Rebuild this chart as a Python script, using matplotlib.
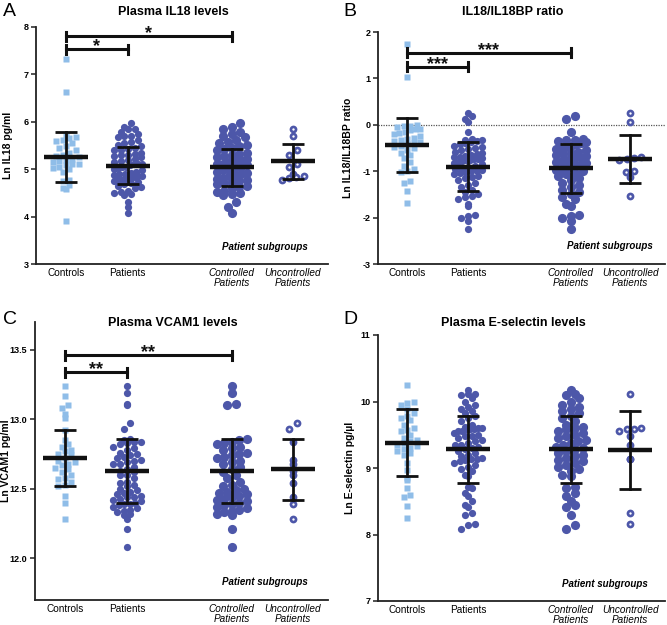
import numpy as np
import matplotlib
matplotlib.use('Agg')
import matplotlib.pyplot as plt

plt.rcParams['font.family'] = ['Liberation Sans', 'DejaVu Sans']

W, H = 667, 625
LIGHT = '#8fbde8'
DARK = '#4d57a9'

categories = ['Controls', 'Patients', 'Controlled\nPatients', 'Uncontrolled\nPatients']

# ---------------- Panel A : IL18 ----------------
il18_controls = [7.33, 6.63, 3.90, 4.58, 4.60, 4.66, 4.75, 4.78, 4.95, 5.00, 5.02, 5.05,
                 5.08, 5.10, 5.12, 5.15, 5.18, 5.20, 5.22, 5.25, 5.28, 5.30, 5.35, 5.40,
                 5.45, 5.50, 5.55, 5.60, 5.62, 5.65, 5.68, 5.70]
il18_controlled = [5.97, 5.90, 5.85, 5.78, 5.75, 5.70, 5.68, 5.62, 5.58, 5.55, 5.52, 5.50,
                   5.45, 5.42, 5.40, 5.35, 5.32, 5.30, 5.28, 5.25, 5.22, 5.20, 5.18, 5.15,
                   5.12, 5.10, 5.08, 5.05, 5.02, 5.00, 4.98, 4.95, 4.92, 4.90, 4.88, 4.85,
                   4.82, 4.80, 4.78, 4.75, 4.72, 4.70, 4.68, 4.65, 4.62, 4.60, 4.55, 4.52,
                   4.50, 4.47, 4.45, 4.31, 4.21, 4.07]
il18_uncontrolled = [5.85, 5.71, 5.40, 5.30, 5.12, 5.05, 4.90, 4.86, 4.84, 4.82, 4.78]
il18_mean = [5.25, 5.07, 5.04, 5.17]
il18_sd = [0.53, 0.39, 0.39, 0.37]

# ---------------- Panel B : IL18/IL18BP ----------------
ratio_controls = [1.75, 1.02, 0.00, -0.02, -0.03, -0.05, -0.08, -0.10, -0.12, -0.15, -0.18,
                  -0.20, -0.25, -0.28, -0.30, -0.33, -0.35, -0.38, -0.40, -0.42, -0.45,
                  -0.48, -0.50, -0.55, -0.60, -0.65, -0.72, -0.80, -0.88, -0.95, -1.00,
                  -1.02, -1.22, -1.25, -1.43, -1.69]
ratio_controlled = [0.19, 0.12, -0.15, -0.30, -0.32, -0.33, -0.35, -0.38, -0.40, -0.42,
                    -0.45, -0.48, -0.50, -0.52, -0.55, -0.58, -0.60, -0.63, -0.65, -0.68,
                    -0.70, -0.73, -0.75, -0.78, -0.80, -0.83, -0.85, -0.88, -0.90, -0.93,
                    -0.95, -0.98, -1.00, -1.03, -1.05, -1.10, -1.15, -1.20, -1.25, -1.30,
                    -1.35, -1.40, -1.45, -1.50, -1.55, -1.60, -1.70, -1.75, -1.95, -1.97,
                    -2.00, -2.07, -2.25]
ratio_uncontrolled = [0.26, 0.05, -0.70, -0.72, -0.74, -0.76, -0.99, -1.01, -1.12, -1.53]
ratio_mean = [-0.44, -0.90, -0.94, -0.74]
ratio_sd = [0.58, 0.52, 0.53, 0.51]

# ---------------- Panel C : VCAM1 ----------------
vcam_controls = [13.24, 13.17, 13.10, 13.08, 13.04, 13.01, 12.92, 12.85, 12.82, 12.80,
                 12.78, 12.77, 12.75, 12.74, 12.72, 12.70, 12.69, 12.68, 12.67, 12.65,
                 12.64, 12.62, 12.60, 12.58, 12.57, 12.55, 12.53, 12.52, 12.45, 12.40, 12.28]
vcam_controlled = [13.24, 13.19, 13.11, 13.10, 12.86, 12.85, 12.84, 12.83, 12.82, 12.80,
                   12.79, 12.78, 12.76, 12.75, 12.74, 12.73, 12.72, 12.70, 12.69, 12.68,
                   12.66, 12.64, 12.62, 12.60, 12.58, 12.55, 12.53, 12.52, 12.50, 12.49,
                   12.48, 12.47, 12.46, 12.45, 12.44, 12.43, 12.42, 12.41, 12.40, 12.39,
                   12.38, 12.37, 12.36, 12.35, 12.34, 12.33, 12.32, 12.31, 12.21, 12.08]
vcam_uncontrolled = [12.97, 12.93, 12.84, 12.71, 12.68, 12.63, 12.60, 12.54, 12.44, 12.39, 12.28]
vcam_mean = [12.72, 12.63, 12.63, 12.64]
vcam_sd = [0.20, 0.23, 0.23, 0.22]

# ---------------- Panel D : E-selectin ----------------
esel_controls = [10.25, 10.00, 9.98, 9.95, 9.88, 9.82, 9.78, 9.75, 9.72, 9.65, 9.60, 9.57,
                 9.55, 9.50, 9.45, 9.42, 9.40, 9.38, 9.35, 9.33, 9.30, 9.28, 9.25, 9.22,
                 9.20, 9.07, 8.97, 8.85, 8.82, 8.70, 8.60, 8.57, 8.43, 8.25]
esel_controlled = [10.18, 10.12, 10.10, 10.05, 10.00, 9.95, 9.92, 9.88, 9.85, 9.82, 9.78,
                   9.75, 9.70, 9.65, 9.62, 9.60, 9.58, 9.55, 9.52, 9.50, 9.48, 9.45, 9.42,
                   9.40, 9.38, 9.35, 9.32, 9.30, 9.28, 9.25, 9.22, 9.20, 9.18, 9.15, 9.12,
                   9.10, 9.08, 9.05, 9.02, 8.98, 8.95, 8.90, 8.88, 8.72, 8.70, 8.62, 8.58,
                   8.50, 8.45, 8.42, 8.29, 8.15, 8.09]
esel_uncontrolled = [10.12, 9.60, 9.59, 9.58, 9.56, 9.48, 9.35, 9.14, 9.13, 8.32, 8.16]
esel_mean = [9.38, 9.28, 9.28, 9.27]
esel_sd = [0.50, 0.50, 0.50, 0.58]

positions = [0, 1, 2.68, 3.66]
XLIM = (-0.48, 4.23)

fig = plt.figure(figsize=(W / 100, H / 100), dpi=100)


def grid_swarm(vals, rowh, colw, maxhalf, ypx):
    """Column-scatter layout: group values into rows of rowh pixels and
    centre the points of each row side by side (colw pixels apart),
    squeezing rows that would exceed maxhalf pixels from the centre."""
    vals = np.asarray(vals, float)
    rows = np.round(vals * ypx / rowh).astype(int)
    offs = np.zeros(len(vals))
    for r in np.unique(rows):
        idx = np.where(rows == r)[0]
        idx = idx[np.argsort(vals[idx])]
        n = len(idx)
        step = colw
        if n > 1 and (n - 1) / 2 * step > maxhalf:
            step = 2 * maxhalf / (n - 1)
        offs[idx] = (np.arange(n) - (n - 1) / 2) * step
    return offs


def panel(box, ylim, yticks, ticklabels, controls, controlled, uncontrolled,
          means, sds, ylabel, ylabel_x, title, title_xy, letter, letter_xy,
          sub_xy, brackets=None, zero=False):
    l, t, r, b = box
    ax = fig.add_axes([l / W, 1 - b / H, (r - l) / W, (b - t) / H])
    ax.set_xlim(*XLIM)
    ax.set_ylim(*ylim)
    xpx = (r - l) / (XLIM[1] - XLIM[0])
    ypx = (b - t) / (ylim[1] - ylim[0])
    patients = list(controlled) + list(uncontrolled)

    if zero:
        ax.axhline(0, color='#555555', lw=0.9, ls=(0, (1, 1)), zorder=1)

    # controls: squares
    o = grid_swarm(controls, 6.5, 6.5, 13, ypx)
    ax.plot(positions[0] + o / xpx, controls, 's', ms=4.7, color=LIGHT, mec='none', zorder=2)
    # patients
    o = grid_swarm(patients, 6.0, 6.8, 14, ypx)
    ax.plot(positions[1] + o / xpx, patients, 'o', ms=5.2, color=DARK, mec='none', zorder=2)
    # controlled
    o = grid_swarm(controlled, 7.0, 8.5, 15, ypx)
    ax.plot(positions[2] + o / xpx, controlled, 'o', ms=6.6, color=DARK, mec='none', zorder=2)
    # uncontrolled
    o = grid_swarm(uncontrolled, 6.5, 8.0, 11, ypx)
    ax.plot(positions[3] + o / xpx, uncontrolled, 'o', ms=5.6, color=DARK, mec='none', zorder=2)
    ax.plot(positions[3] + o / xpx, uncontrolled, 'o', ms=1.7, color='white', mec='none', zorder=3)

    # mean +/- SD
    for p, m, s in zip(positions, means, sds):
        hw = 22 / xpx
        cw = 11 / xpx
        ax.plot([p - hw, p + hw], [m, m], color='#111111', lw=3.2, solid_capstyle='butt', zorder=5)
        ax.plot([p, p], [m - s, m + s], color='#111111', lw=2.0, zorder=5)
        for yy in (m - s, m + s):
            ax.plot([p - cw, p + cw], [yy, yy], color='#111111', lw=2.0,
                    solid_capstyle='butt', zorder=5)

    if brackets:
        for (i0, i1, yv, stars) in brackets:
            x0, x1 = positions[i0], positions[i1]
            d = 4.5 / ypx
            ax.plot([x0, x1], [yv, yv], color='#111111', lw=2.2, clip_on=False, zorder=6)
            for xx in (x0, x1):
                ax.plot([xx, xx], [yv - d, yv + d], color='#111111', lw=2.2, clip_on=False,
                        zorder=6)
            ax.text((x0 + x1) / 2, yv - 2.0 / ypx, stars, ha='center', va='baseline',
                    fontsize=13, fontweight='bold', color='#111111', zorder=6)

    for side in ('top', 'right'):
        ax.spines[side].set_visible(False)
    for side in ('left', 'bottom'):
        ax.spines[side].set_linewidth(1.3)
        ax.spines[side].set_color('#222222')
    ax.set_yticks(yticks)
    ax.set_yticklabels(ticklabels, fontsize=6.5, fontweight='bold')
    ax.tick_params(axis='y', length=3.5, width=1.1, pad=2, color='#222222')
    ax.set_xticks(positions)
    ax.set_xticklabels(categories, fontsize=7.2, linespacing=0.95)
    for k, lab in enumerate(ax.get_xticklabels()):
        if k >= 2:
            lab.set_fontstyle('italic')
    ax.tick_params(axis='x', length=0, pad=3)

    fig.text(ylabel_x / W, 1 - ((t + b) / 2) / H, ylabel, rotation=90, ha='center',
             va='center', fontsize=7.5, fontweight='bold')
    fig.text(title_xy[0] / W, 1 - title_xy[1] / H, title, ha='center', va='center',
             fontsize=9, fontweight='bold')
    fig.text(letter_xy[0] / W, 1 - letter_xy[1] / H, letter, ha='left', va='center',
             fontsize=14)
    fig.text(sub_xy[0] / W, 1 - sub_xy[1] / H, 'Patient subgroups', ha='center', va='center',
             fontsize=7, fontweight='bold', fontstyle='italic')
    return ax


panel((36, 27, 328, 264), (3, 8), [3, 4, 5, 6, 7, 8], ['3', '4', '5', '6', '7', '8'],
      il18_controls, il18_controlled, il18_uncontrolled, il18_mean, il18_sd,
      'Ln IL18 pg/ml', 8, 'Plasma IL18 levels', (173, 12), 'A', (3, 12), (265, 247),
      brackets=[(0, 1, 7.53, '*'), (0, 2, 7.80, '*')])

panel((378, 32, 665, 264), (-3, 2), [-3, -2, -1, 0, 1, 2], ['-3', '-2', '-1', '0', '1', '2'],
      ratio_controls, ratio_controlled, ratio_uncontrolled, ratio_mean, ratio_sd,
      'Ln IL18/IL18BP ratio', 348, 'IL18/IL18BP ratio', (513, 12), 'B', (343, 12), (610, 246),
      brackets=[(0, 1, 1.25, '***'), (0, 2, 1.55, '***')], zero=True)

panel((35, 322, 328, 600), (11.7, 13.7), [12.0, 12.5, 13.0, 13.5],
      ['12.0', '12.5', '13.0', '13.5'],
      vcam_controls, vcam_controlled, vcam_uncontrolled, vcam_mean, vcam_sd,
      'Ln VCAM1 pg/ml', 6, 'Plasma VCAM1 levels', (173, 323), 'C', (3, 320), (265, 582),
      brackets=[(0, 1, 13.34, '**'), (0, 2, 13.46, '**')])

panel((378, 335, 665, 601), (7, 11), [7, 8, 9, 10, 11], ['7', '8', '9', '10', '11'],
      esel_controls, esel_controlled, esel_uncontrolled, esel_mean, esel_sd,
      'Ln E-selectin pg/\u00b5l', 350, 'Plasma E-selectin levels', (513, 323), 'D', (343, 320),
      (605, 584))

fig.savefig('out.png', dpi=100)
